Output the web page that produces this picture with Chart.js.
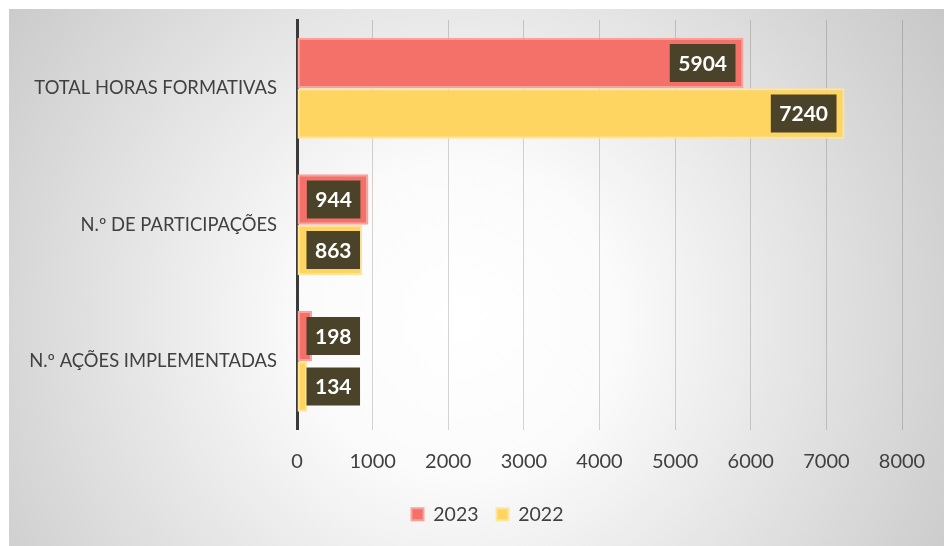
<!DOCTYPE html>
<html>
<head>
<meta charset="utf-8">
<script src="https://cdn.jsdelivr.net/npm/chart.js@4/dist/chart.umd.min.js"></script>
<style>
  html, body { margin: 0; padding: 0; background: #ffffff; }
  #wrap { width: 944px; height: 546px; position: relative; }
</style>
</head>
<body>
<div id="wrap"><canvas id="c" width="944" height="546"></canvas></div>
<script>
const categories = ['TOTAL HORAS FORMATIVAS', 'N.º DE PARTICIPAÇÕES', 'N.º AÇÕES IMPLEMENTADAS'];
const values2023 = [5904, 944, 198];
const values2022 = [7240, 863, 134];
const seriesNames = ['2023', '2022'];
const tickValues = [0, 1000, 2000, 3000, 4000, 5000, 6000, 7000, 8000];

const bgPlugin = {
  id: 'bg',
  beforeDraw(chart) {
    const ctx = chart.ctx;
    ctx.save();
    ctx.fillStyle = '#ffffff';
    ctx.fillRect(0, 0, chart.width, chart.height);
    const g = ctx.createRadialGradient(460, 320, 0, 460, 320, 620);
    g.addColorStop(0, '#ffffff');
    g.addColorStop(0.25, '#fbfbfb');
    g.addColorStop(1, '#c2c2c2');
    ctx.fillStyle = g;
    ctx.fillRect(9, 9, chart.width - 9, chart.height - 9);
    ctx.restore();
  }
};

const legendShift = {
  id: 'legendShift',
  afterLayout(chart) {
    if (chart.legend) {
      chart.legend.left += 32;
      chart.legend.right += 32;
    }
  }
};

const labelPlugin = {
  id: 'boxLabels',
  afterDatasetsDraw(chart) {
    const ctx = chart.ctx;
    ctx.save();
    ctx.font = 'bold 21px Lato';
    ctx.textAlign = 'center';
    ctx.textBaseline = 'middle';
    chart.data.datasets.forEach((ds, di) => {
      const meta = chart.getDatasetMeta(di);
      meta.data.forEach((bar, i) => {
        const txt = String(ds.data[i]);
        const tw = ctx.measureText(txt).width;
        const bw = tw + 17;
        const bh = 38;
        const right = Math.max(bar.x - 8, bar.base + 9 + bw);
        const left = right - bw;
        ctx.fillStyle = '#4A4329';
        ctx.fillRect(left, bar.y - bh / 2, bw, bh);
        ctx.fillStyle = '#ffffff';
        ctx.fillText(txt, left + bw / 2, bar.y + 1);
      });
    });
    ctx.restore();
  }
};

new Chart(document.getElementById('c'), {
  type: 'bar',
  data: {
    labels: categories,
    datasets: [
      { label: seriesNames[0], data: values2023, backgroundColor: '#F4716A', borderColor: '#F9A19C', borderWidth: 2, borderSkipped: false, categoryPercentage: 0.74, barPercentage: 1.0 },
      { label: seriesNames[1], data: values2022, backgroundColor: '#FFD561', borderColor: '#FFE49C', borderWidth: 2, borderSkipped: false, categoryPercentage: 0.74, barPercentage: 1.0 }
    ]
  },
  options: {
    indexAxis: 'y',
    responsive: false,
    animation: false,
    devicePixelRatio: 1,
    layout: { padding: { left: 9, right: 42, top: 20, bottom: 12 } },
    scales: {
      x: {
        min: 0, max: 8000,
        afterBuildTicks(scale) { scale.ticks = tickValues.map(v => ({ value: v })); },
        afterFit(scale) { scale.height = 57; scale.paddingLeft = 0; scale.paddingRight = 0; },
        grid: { color: 'rgba(0,0,0,0.16)', lineWidth: 1, drawTicks: false },
        border: { display: false },
        ticks: { color: '#404040', font: { family: 'Lato', size: 20 }, padding: 20, callback: v => String(v) }
      },
      y: {
        afterFit(scale) { scale.width = 288; scale.paddingTop = 0; scale.paddingBottom = 0; },
        grid: { display: false, drawTicks: false },
        border: { display: true, color: '#3a3a3a', width: 3 },
        ticks: { color: '#404040', font: { family: 'Lato', size: 18.4 }, padding: 20 }
      }
    },
    plugins: {
      legend: {
        position: 'bottom',
        labels: { color: '#404040', font: { family: 'Lato', size: 19.5 }, boxWidth: 12, boxHeight: 12, padding: 18 }
      },
      tooltip: { enabled: false }
    }
  },
  plugins: [bgPlugin, legendShift, labelPlugin]
});
</script>
</body>
</html>
